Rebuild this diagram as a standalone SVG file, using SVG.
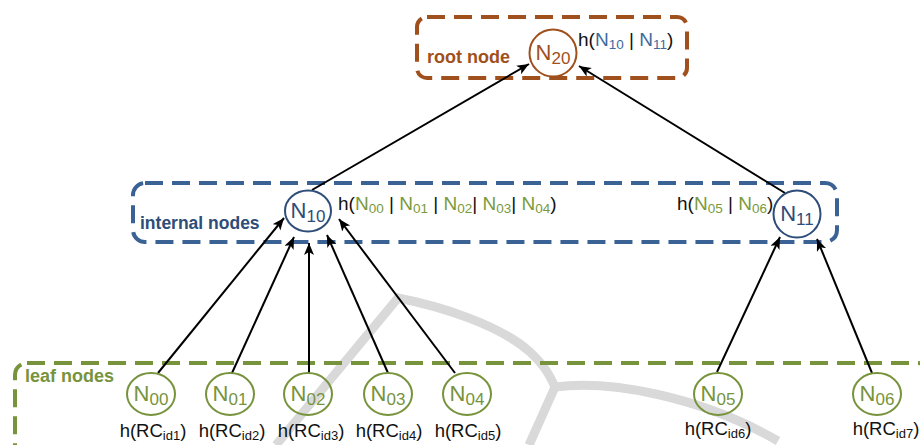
<svg xmlns="http://www.w3.org/2000/svg" width="920" height="445" viewBox="0 0 920 445">
<style>
text{font-family:"Liberation Sans",Arial,sans-serif;}
.box{fill:none;stroke-width:4;stroke-dasharray:18 9;}
.lbl{font-size:19px;fill:#111;}
.leaflbl{font-size:18.5px;fill:#111;text-anchor:middle;}
.nt{font-size:22px;text-anchor:middle;}
.sub{font-size:17px;}
.s13{font-size:13.5px;}
.s12{font-size:13px;}
.grn{fill:#7a9a3c;}
.blu{fill:#3d6aa0;}
.title{font-weight:bold;}
.conn line{stroke:#000;stroke-width:2;marker-end:url(#arr);}
</style>
<defs>
<marker id="arr" markerUnits="userSpaceOnUse" markerWidth="13" markerHeight="11" refX="12" refY="5" orient="auto">
<path d="M0,0 L12,5 L0,10 L3,5 z" fill="#000"/>
</marker>
</defs>
<rect width="920" height="445" fill="#fff"/>
<g id="watermark" fill="none" stroke="#d9d9d9" stroke-width="9" stroke-linecap="butt">
<path d="M276,445 L398,298 C440,306 500,325 530,352 C545,366 550,376 555,387"/>
<path d="M555,387 L529,445"/>
<path d="M555,387 C610,380 700,396 778,441"/>
</g>
<g id="root-box">
<rect class="box" x="417" y="17" width="270" height="61" rx="10" stroke="#a0501c"/>
<text class="title" x="427" y="63" font-size="18" fill="#a0501c">root node</text>
</g>
<g id="internal-box">
<rect class="box" x="133" y="183" width="704" height="59" rx="12" stroke="#3a6294"/>
<text class="title" x="140" y="229" font-size="17.5" fill="#2e4d78">internal nodes</text>
</g>
<g id="leaf-box">
<rect class="box" x="15" y="363" width="915" height="120" rx="12" stroke="#77933c" stroke-width="5"/>
<text class="title" x="25" y="382" font-size="18" fill="#77933c">leaf nodes</text>
</g>
<g id="connectors" class="conn">
<line x1="312" y1="190" x2="529" y2="64"/>
<line x1="785" y1="193" x2="579" y2="66"/>
<line x1="158" y1="373" x2="284" y2="218"/>
<line x1="232" y1="373" x2="294" y2="237"/>
<line x1="309" y1="373" x2="309" y2="243"/>
<line x1="388" y1="373" x2="327" y2="235"/>
<line x1="455" y1="373" x2="339" y2="219"/>
<line x1="717" y1="372" x2="780" y2="237"/>
<line x1="872" y1="373" x2="817" y2="239"/>
</g>
<g id="N20">
<circle cx="553" cy="53" r="23.5" fill="none" stroke="#a0501c" stroke-width="2"/>
<text class="nt" x="553" y="60" fill="#a0501c">N<tspan class="sub" dy="4">20</tspan></text>
<text class="lbl" x="578" y="46">h(<tspan class="blu">N</tspan><tspan class="blu s13" dy="3">10</tspan><tspan dy="-3"> | </tspan><tspan class="blu">N</tspan><tspan class="blu s13" dy="3">11</tspan><tspan dy="-3">)</tspan></text>
</g>
<g id="N10">
<ellipse cx="308" cy="211" rx="23" ry="20.5" fill="none" stroke="#2e4d78" stroke-width="2"/>
<text class="nt" x="308" y="218" fill="#2e4d78">N<tspan class="sub" dy="4">10</tspan></text>
<text class="lbl" x="338" y="210">h(<tspan class="grn">N</tspan><tspan class="grn s13" dy="3">00</tspan><tspan dy="-3"> | </tspan><tspan class="grn">N</tspan><tspan class="grn s13" dy="3">01</tspan><tspan dy="-3"> | </tspan><tspan class="grn">N</tspan><tspan class="grn s13" dy="3">02</tspan><tspan dy="-3">| </tspan><tspan class="grn">N</tspan><tspan class="grn s13" dy="3">03</tspan><tspan dy="-3">| </tspan><tspan class="grn">N</tspan><tspan class="grn s13" dy="3">04</tspan><tspan dy="-3">)</tspan></text>
</g>
<g id="N11">
<circle cx="797" cy="214" r="23.5" fill="none" stroke="#2e4d78" stroke-width="2"/>
<text class="nt" x="797" y="221" fill="#2e4d78">N<tspan class="sub" dy="4">11</tspan></text>
<text class="lbl" x="677" y="210">h(<tspan class="grn">N</tspan><tspan class="grn s13" dy="3">05</tspan><tspan dy="-3"> | </tspan><tspan class="grn">N</tspan><tspan class="grn s13" dy="3">06</tspan><tspan dy="-3">)</tspan></text>
</g>
<g id="N00">
<ellipse cx="151" cy="394" rx="24" ry="21" fill="none" stroke="#77933c" stroke-width="2"/>
<text class="nt" x="151" y="401" fill="#77933c">N<tspan class="sub" dy="4">00</tspan></text>
<text class="leaflbl" x="153" y="437">h(RC<tspan class="s12" dy="3">id1</tspan><tspan dy="-3">)</tspan></text>
</g>
<g id="N01">
<ellipse cx="230" cy="394" rx="24" ry="21" fill="none" stroke="#77933c" stroke-width="2"/>
<text class="nt" x="230" y="401" fill="#77933c">N<tspan class="sub" dy="4">01</tspan></text>
<text class="leaflbl" x="232" y="437">h(RC<tspan class="s12" dy="3">id2</tspan><tspan dy="-3">)</tspan></text>
</g>
<g id="N02">
<ellipse cx="308" cy="394" rx="24" ry="21" fill="none" stroke="#77933c" stroke-width="2"/>
<text class="nt" x="308" y="401" fill="#77933c">N<tspan class="sub" dy="4">02</tspan></text>
<text class="leaflbl" x="311" y="437">h(RC<tspan class="s12" dy="3">id3</tspan><tspan dy="-3">)</tspan></text>
</g>
<g id="N03">
<ellipse cx="388" cy="394" rx="24" ry="21" fill="none" stroke="#77933c" stroke-width="2"/>
<text class="nt" x="388" y="401" fill="#77933c">N<tspan class="sub" dy="4">03</tspan></text>
<text class="leaflbl" x="389" y="437">h(RC<tspan class="s12" dy="3">id4</tspan><tspan dy="-3">)</tspan></text>
</g>
<g id="N04">
<ellipse cx="467" cy="394" rx="24" ry="21" fill="none" stroke="#77933c" stroke-width="2"/>
<text class="nt" x="467" y="401" fill="#77933c">N<tspan class="sub" dy="4">04</tspan></text>
<text class="leaflbl" x="468" y="437">h(RC<tspan class="s12" dy="3">id5</tspan><tspan dy="-3">)</tspan></text>
</g>
<g id="N05">
<ellipse cx="718" cy="394" rx="24" ry="21" fill="none" stroke="#77933c" stroke-width="2"/>
<text class="nt" x="718" y="401" fill="#77933c">N<tspan class="sub" dy="4">05</tspan></text>
<text class="leaflbl" x="718" y="435">h(RC<tspan class="s12" dy="3">id6</tspan><tspan dy="-3">)</tspan></text>
</g>
<g id="N06">
<ellipse cx="877" cy="394" rx="24" ry="21" fill="none" stroke="#77933c" stroke-width="2"/>
<text class="nt" x="877" y="401" fill="#77933c">N<tspan class="sub" dy="4">06</tspan></text>
<text class="leaflbl" x="886" y="435">h(RC<tspan class="s12" dy="3">id7</tspan><tspan dy="-3">)</tspan></text>
</g>
</svg>
